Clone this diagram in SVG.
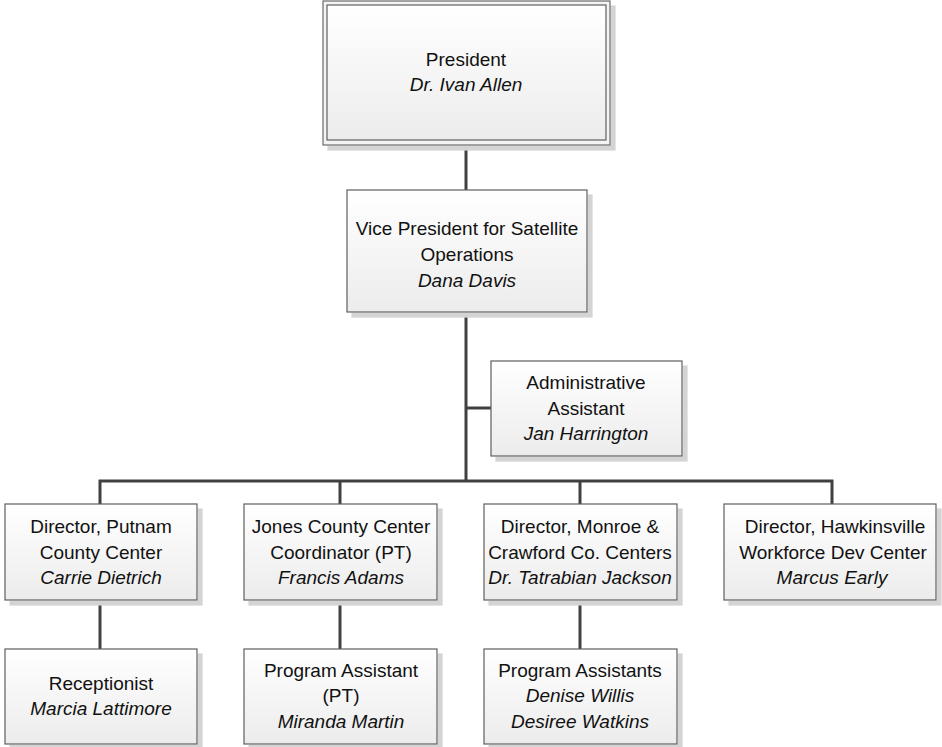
<svg xmlns="http://www.w3.org/2000/svg" width="942" height="747" viewBox="0 0 942 747">
<defs>
<linearGradient id="g" x1="0" y1="0" x2="0" y2="1">
<stop offset="0" stop-color="#ffffff"/>
<stop offset="1" stop-color="#ececec"/>
</linearGradient>
<filter id="sh" x="-5%" y="-5%" width="115%" height="120%">
<feOffset dx="5" dy="5" in="SourceAlpha" result="o"/>
<feFlood flood-color="#d4d4d4"/>
<feComposite in2="o" operator="in" result="s"/>
<feMerge><feMergeNode in="s"/><feMergeNode in="SourceGraphic"/></feMerge>
</filter>
</defs>
<style>
.box{fill:url(#g);stroke:#5f5f5f;stroke-width:1.2}
.outer{fill:#f4f4f4;stroke:#6a6a6a;stroke-width:1.2}
.t{font-family:"Liberation Sans",Arial,sans-serif;font-size:19px;fill:#111;text-anchor:middle}
.i{font-style:italic}
.c{stroke:#404040;stroke-width:3;fill:none}
</style>
<g id="connectors">
<line class="c" x1="466" y1="145" x2="466" y2="190"/>
<line class="c" x1="466" y1="312" x2="466" y2="481"/>
<line class="c" x1="466" y1="408" x2="491" y2="408"/>
<polyline class="c" points="100,504 100,481 832,481 832,504"/>
<line class="c" x1="340" y1="481" x2="340" y2="504"/>
<line class="c" x1="580" y1="481" x2="580" y2="504"/>
<line class="c" x1="100" y1="600" x2="100" y2="649"/>
<line class="c" x1="340" y1="600" x2="340" y2="649"/>
<line class="c" x1="580" y1="600" x2="580" y2="649"/>
</g>
<g id="president">
<rect class="outer" x="323" y="1" width="287" height="144" filter="url(#sh)"/>
<rect class="box" x="327" y="5" width="279" height="135"/>
<text class="t" x="466" y="66">President</text>
<text class="t i" x="466" y="91">Dr. Ivan Allen</text>
</g>
<g id="vp">
<rect class="box" x="347" y="190" width="240" height="122" filter="url(#sh)"/>
<text class="t" x="467" y="235">Vice President for Satellite</text>
<text class="t" x="467" y="261">Operations</text>
<text class="t i" x="467" y="287">Dana Davis</text>
</g>
<g id="admin">
<rect class="box" x="491" y="361" width="191" height="95" filter="url(#sh)"/>
<text class="t" x="586" y="389">Administrative</text>
<text class="t" x="586" y="415">Assistant</text>
<text class="t i" x="586" y="440">Jan Harrington</text>
</g>
<g id="putnam">
<rect class="box" x="5" y="504" width="192" height="96" filter="url(#sh)"/>
<text class="t" x="101" y="533">Director, Putnam</text>
<text class="t" x="101" y="559">County Center</text>
<text class="t i" x="101" y="584">Carrie Dietrich</text>
</g>
<g id="jones">
<rect class="box" x="244" y="504" width="193" height="96" filter="url(#sh)"/>
<text class="t" x="341" y="533">Jones County Center</text>
<text class="t" x="341" y="559">Coordinator (PT)</text>
<text class="t i" x="341" y="584">Francis Adams</text>
</g>
<g id="monroe">
<rect class="box" x="484" y="504" width="193" height="96" filter="url(#sh)"/>
<text class="t" x="580" y="533">Director, Monroe &amp;</text>
<text class="t" x="580" y="559">Crawford Co. Centers</text>
<text class="t i" x="580" y="584">Dr. Tatrabian Jackson</text>
</g>
<g id="hawkinsville">
<rect class="box" x="724" y="504" width="212" height="96" filter="url(#sh)"/>
<text class="t" x="835" y="533">Director, Hawkinsville</text>
<text class="t" x="833" y="559">Workforce Dev Center</text>
<text class="t i" x="832" y="584">Marcus Early</text>
</g>
<g id="receptionist">
<rect class="box" x="5" y="649" width="192" height="95" filter="url(#sh)"/>
<text class="t" x="101" y="690">Receptionist</text>
<text class="t i" x="101" y="715">Marcia Lattimore</text>
</g>
<g id="program-assistant">
<rect class="box" x="244" y="649" width="193" height="95" filter="url(#sh)"/>
<text class="t" x="341" y="677">Program Assistant</text>
<text class="t" x="341" y="702">(PT)</text>
<text class="t i" x="341" y="728">Miranda Martin</text>
</g>
<g id="program-assistants">
<rect class="box" x="484" y="649" width="193" height="95" filter="url(#sh)"/>
<text class="t" x="580" y="677">Program Assistants</text>
<text class="t i" x="580" y="702">Denise Willis</text>
<text class="t i" x="580" y="728">Desiree Watkins</text>
</g>
</svg>
